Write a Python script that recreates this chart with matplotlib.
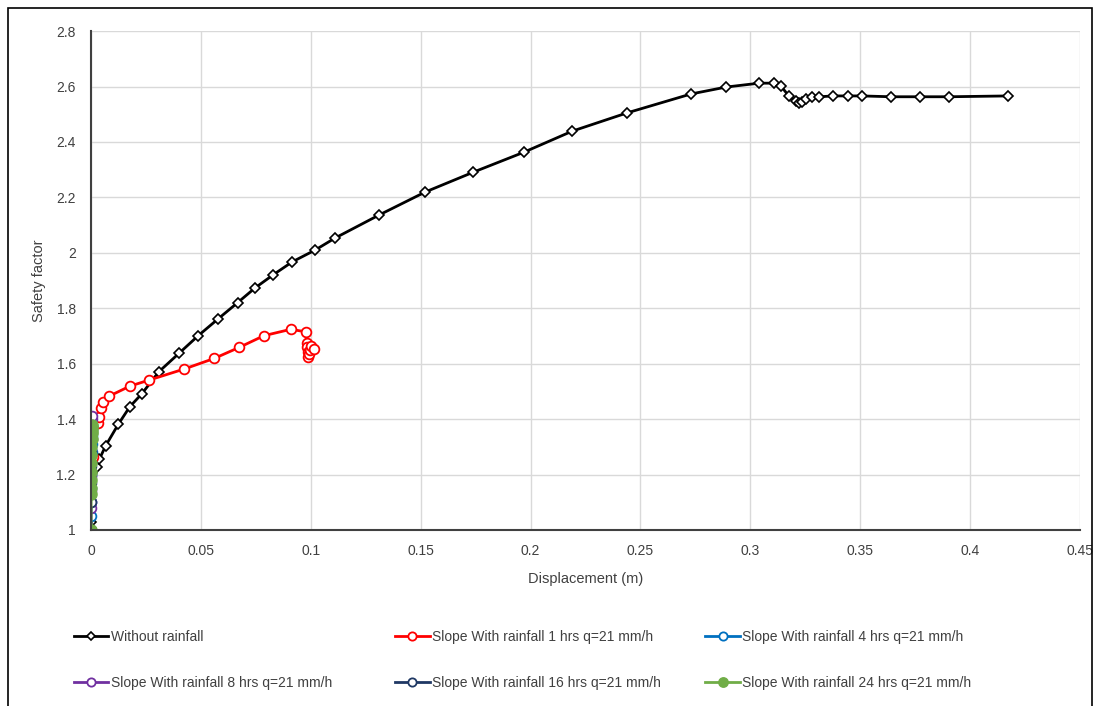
import matplotlib.pyplot as plt
from matplotlib.patches import Rectangle

plt.rcParams['font.family'] = ['Liberation Sans', 'DejaVu Sans']

# Without rainfall
x_dry = [0.0, 0.0026, 0.0038, 0.0067, 0.0124, 0.0177, 0.0231, 0.0309, 0.040, 0.0488,
         0.0576, 0.0667, 0.0746, 0.0828, 0.0915, 0.102, 0.111, 0.131, 0.152, 0.174,
         0.197, 0.219, 0.244, 0.273, 0.289, 0.304, 0.311, 0.314, 0.3176, 0.3208,
         0.3223, 0.3234, 0.3253, 0.3279, 0.3314, 0.3378, 0.3446, 0.3507, 0.364,
         0.3772, 0.3904, 0.4174]
y_dry = [1.029, 1.228, 1.255, 1.304, 1.381, 1.445, 1.491, 1.571, 1.637, 1.701,
         1.760, 1.820, 1.873, 1.920, 1.967, 2.010, 2.053, 2.136, 2.219, 2.291,
         2.363, 2.439, 2.505, 2.573, 2.598, 2.612, 2.612, 2.601, 2.565, 2.547,
         2.539, 2.543, 2.554, 2.563, 2.563, 2.566, 2.566, 2.566, 2.563,
         2.563, 2.563, 2.566]

# Rainfall 1 hrs
x_1h = [0.0, 0.0009, 0.003, 0.0036, 0.0044, 0.0053, 0.0083, 0.0177, 0.0265, 0.0425,
        0.0561, 0.0675, 0.0787, 0.0909, 0.0977, 0.0981, 0.0985, 0.0987, 0.0987,
        0.0990, 0.0995, 0.1000, 0.1015]
y_1h = [1.0, 1.264, 1.385, 1.409, 1.439, 1.461, 1.483, 1.519, 1.541, 1.581,
        1.619, 1.659, 1.701, 1.724, 1.715, 1.676, 1.660, 1.642, 1.624,
        1.635, 1.650, 1.662, 1.652]

# Rainfall 4 hrs
x_4h = [0.0, 0.0001, 0.0001, 0.0002, 0.0002, 0.0002, 0.0003, 0.0003, 0.0003, 0.0003, 0.0003]
y_4h = [1.0, 1.05, 1.10, 1.15, 1.20, 1.24, 1.28, 1.31, 1.34, 1.36, 1.37]

# Rainfall 8 hrs
x_8h = [0.0, 0.0001, 0.0001, 0.0002, 0.0002, 0.0002, 0.0003, 0.0003, 0.0003, 0.0003]
y_8h = [1.08, 1.10, 1.14, 1.19, 1.24, 1.29, 1.33, 1.37, 1.40, 1.41]

# Rainfall 16 hrs
x_16h = [0.0, 0.0001, 0.0001, 0.0002, 0.0002, 0.0002, 0.0003, 0.0003, 0.0003]
y_16h = [1.0, 1.10, 1.17, 1.23, 1.28, 1.32, 1.35, 1.37, 1.38]

# Rainfall 24 hrs
x_24h = [0.0, 0.0001, 0.0001, 0.0001, 0.0002, 0.0002, 0.0002, 0.0002, 0.0003,
         0.0003, 0.0003, 0.0003, 0.0003]
y_24h = [1.0, 1.13, 1.15, 1.18, 1.21, 1.24, 1.27, 1.30, 1.33, 1.35, 1.36, 1.37, 1.38]

fig = plt.figure(figsize=(11, 7.06), dpi=100)
ax = fig.add_axes([0.0827, 0.2493, 0.8991, 0.7067])

h_dry, = ax.plot(x_dry, y_dry, color='black', lw=2, marker='D', ms=5,
                 mfc='white', mec='black', mew=1.2, label='Without rainfall')
h_1h, = ax.plot(x_1h, y_1h, color='#FF0000', lw=2, marker='o', ms=7,
                mfc='white', mec='#FF0000', mew=1.3,
                label='Slope With rainfall 1 hrs q=21 mm/h')
h_4h, = ax.plot(x_4h, y_4h, color='#0070C0', lw=2, marker='o', ms=7,
                mfc='white', mec='#0070C0', mew=1.3,
                label='Slope With rainfall 4 hrs q=21 mm/h')
h_8h, = ax.plot(x_8h, y_8h, color='#7030A0', lw=2, marker='o', ms=7,
                mfc='white', mec='#7030A0', mew=1.3,
                label='Slope With rainfall 8 hrs q=21 mm/h')
h_16h, = ax.plot(x_16h, y_16h, color='#1F3864', lw=2, marker='o', ms=7,
                 mfc='white', mec='#1F3864', mew=1.3,
                 label='Slope With rainfall 16 hrs q=21 mm/h')
h_24h, = ax.plot(x_24h, y_24h, color='#70AD47', lw=2, marker='o', ms=8,
                 mfc='#70AD47', mec='#70AD47',
                 label='Slope With rainfall 24 hrs q=21 mm/h')

ax.set_xlim(0, 0.45)
ax.set_ylim(1, 2.8)
ax.set_xticks([0, 0.05, 0.1, 0.15, 0.2, 0.25, 0.3, 0.35, 0.4, 0.45])
ax.set_xticklabels(['0', '0.05', '0.1', '0.15', '0.2', '0.25', '0.3', '0.35', '0.4', '0.45'])
ax.set_yticks([1, 1.2, 1.4, 1.6, 1.8, 2, 2.2, 2.4, 2.6, 2.8])
ax.set_yticklabels(['1', '1.2', '1.4', '1.6', '1.8', '2', '2.2', '2.4', '2.6', '2.8'])
ax.tick_params(length=0, labelsize=10, colors='#404040')
ax.tick_params(axis='y', pad=11)
ax.tick_params(axis='x', pad=10)
ax.grid(True, color='#D9D9D9', lw=1)
ax.set_axisbelow(True)
for s in ['top', 'right']:
    ax.spines[s].set_visible(False)
for s in ['left', 'bottom']:
    ax.spines[s].set_color('#404040')
    ax.spines[s].set_linewidth(1.5)

ax.set_xlabel('Displacement (m)', fontsize=10.5, color='#404040', labelpad=10)
ax.set_ylabel('Safety factor', fontsize=10.5, color='#404040', labelpad=7)

# legend: three columns placed like the original
columns = [([h_dry, h_8h], 0.062), ([h_1h, h_16h], 0.354), ([h_4h, h_24h], 0.636)]
for hs, x0 in columns:
    fig.legend(handles=hs, labels=[h.get_label() for h in hs],
               loc='upper left', bbox_to_anchor=(x0, 0.116), frameon=False,
               fontsize=10, handlelength=2.5, handletextpad=0.15,
               labelspacing=2.3, markerscale=0.85, labelcolor='#404040',
               borderaxespad=0)

# outer border
fig.patches.append(Rectangle((8 / 1100, -0.01), 1084 / 1100, 1 - 8 / 706 + 0.01,
                             transform=fig.transFigure, fill=False,
                             edgecolor='black', lw=1.2))

fig.savefig('out.png', dpi=100)
